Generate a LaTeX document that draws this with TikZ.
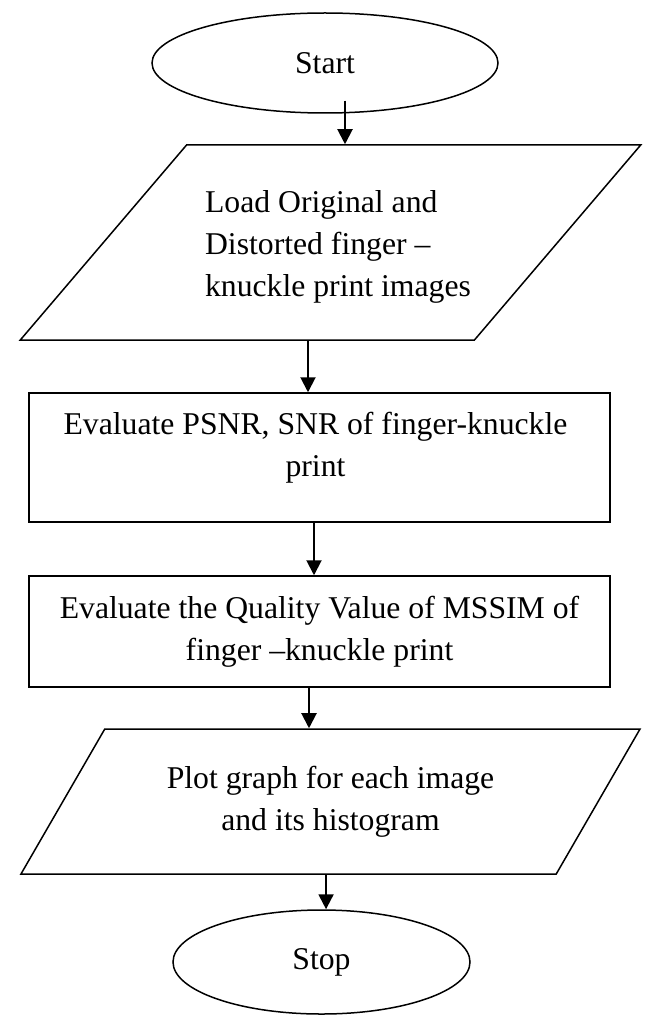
\documentclass[tikz,border=0pt]{standalone}
\usepackage{fontspec}
\setmainfont{Liberation Serif}
\usetikzlibrary{shapes.geometric,arrows.meta}
\tikzset{
	box/.style = {align=center, inner sep=0pt, font=\fontsize{15.85}{21}\selectfont, line width=0.75pt},
	terminal/.style = {box, ellipse, draw=black},
	process/.style = {box, rectangle, draw=black, minimum width=290.5pt},
	io/.style = {box, trapezium, trapezium stretches=true, draw=black, minimum width=310.5pt},
	txt/.style = {box, draw=none},
	flow/.style = {line width=1pt, -{Triangle[length=7.5pt,width=7.5pt]}}
}

\begin{document}
\begin{tikzpicture}
	\useasboundingbox (0,0) rectangle (324.5pt,-508pt);
	\node [terminal, minimum width=173pt, minimum height=50pt] (start) at (162.5pt,-31.5pt) {Start};
	\node [io, minimum height=97.5pt, trapezium left angle=57.5, trapezium right angle=122.5] (load) at (165.25pt,-121.25pt) {\phantom{X}};
	\node [txt, align=left] (loadtext) at ([xshift=3.75pt,yshift=-2pt]load.center)
		{Load Original and\\Distorted finger –\\knuckle print images};
	\node [process, minimum height=64.5pt] (psnr) at (159.75pt,-228.75pt) {};
	\node [txt] (psnrtext) at ([xshift=-2pt,yshift=5pt]psnr.center)
		{Evaluate PSNR, SNR of finger-knuckle\\print};
	\node [process, minimum height=55.5pt] (mssim) at (159.75pt,-315.75pt)
		{Evaluate the Quality Value of MSSIM of\\finger –knuckle print};
	\node [io, minimum height=72.5pt, trapezium left angle=49.5, trapezium right angle=130.5] (plot) at (165.25pt,-400.75pt)
		{Plot graph for each image\\and its histogram};
	\node [terminal, minimum width=148.5pt, minimum height=52pt] (stop) at (160.75pt,-481pt) {Stop};

	% connectors
	\draw [flow] ([xshift=10pt,yshift=6.5pt]start.south) -- ([xshift=10pt]start.south |- load.north);
	\draw [flow] ([xshift=-11.25pt]load.south) -- ([xshift=-11.25pt]load.south |- psnr.north);
	\draw [flow] ([xshift=-2.75pt]psnr.south) -- ([xshift=-2.75pt]psnr.south |- mssim.north);
	\draw [flow] ([xshift=-5.25pt]mssim.south) -- ([xshift=-5.25pt]mssim.south |- plot.north);
	\draw [flow] ([xshift=-2.25pt]plot.south) -- ([xshift=-2.25pt]plot.south |- stop.north);
\end{tikzpicture}
\end{document}
